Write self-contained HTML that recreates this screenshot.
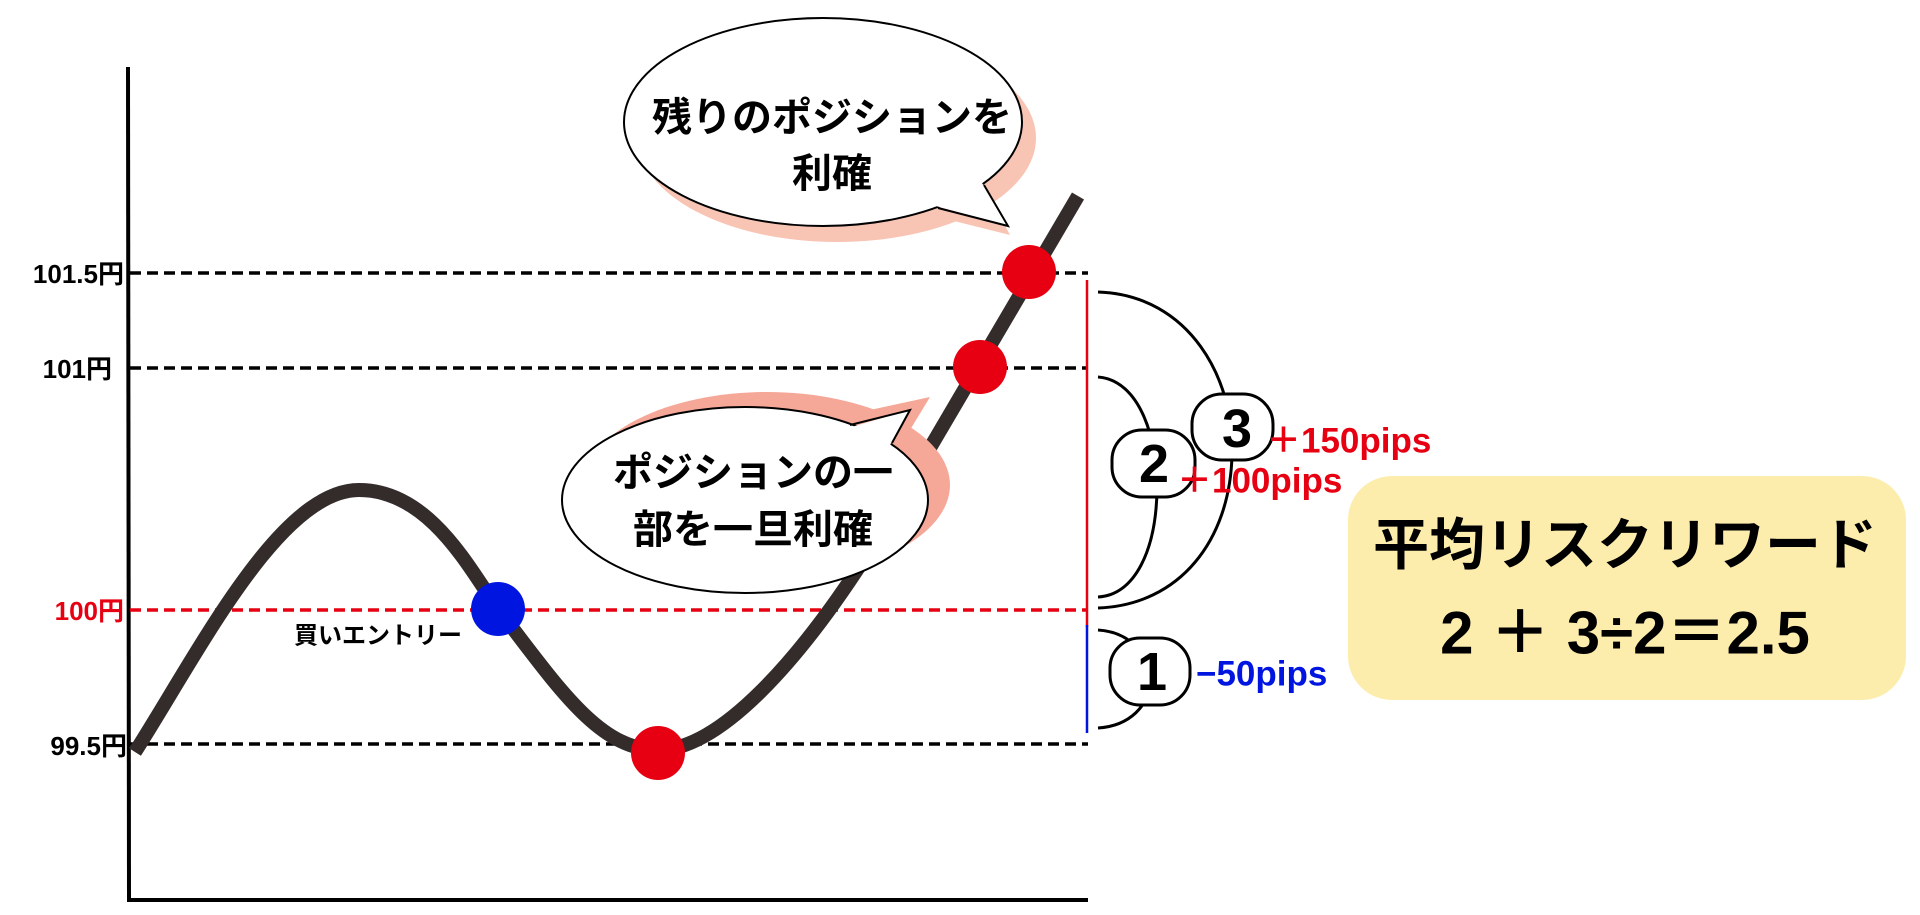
<!DOCTYPE html>
<html><head><meta charset="utf-8"><style>
html,body{margin:0;padding:0;background:#fff;}
svg{display:block;}
text{font-family:"Liberation Sans","Noto Sans CJK JP",sans-serif;font-weight:bold;}
</style></head><body>
<svg width="1920" height="915" viewBox="0 0 1920 915" xmlns="http://www.w3.org/2000/svg">
<!-- axes -->
<line x1="128" y1="67" x2="129" y2="902" stroke="#000" stroke-width="4"/>
<line x1="127" y1="900" x2="1088" y2="900" stroke="#000" stroke-width="4"/>
<!-- dashed levels -->
<g stroke-width="3.5" stroke-dasharray="11 6">
<line x1="130" y1="273" x2="1088" y2="273" stroke="#000"/>
<line x1="130" y1="368" x2="1088" y2="368" stroke="#000"/>
<line x1="130" y1="610" x2="1088" y2="610" stroke="#e60012"/>
<line x1="130" y1="744" x2="1088" y2="744" stroke="#000"/>
</g>
<!-- labels -->
<g font-size="26" text-anchor="end" dominant-baseline="central">
<text x="124" y="274">101.5円</text>
<text x="112" y="369">101円</text>
<text x="124" y="611" fill="#e60012">100円</text>
<text x="127" y="746">99.5円</text>
</g>
<text x="378" y="636" font-size="24" text-anchor="middle" dominant-baseline="central" font-weight="normal">買いエントリー</text>
<!-- curve -->
<path d="M135,752 C200,650 280,490 359,490 C430,490 470,570 498,609 C560,690 600,750 658,750 C720,750 800,660 870,550 L1078,196" fill="none" stroke="#332c2b" stroke-width="14"/>
<!-- bubble 1 shadow -->
<g fill="#f8c4b4" transform="translate(14,16)">
<ellipse cx="823" cy="122" rx="199" ry="104"/>
<path d="M940,205 L996,219 L975,180 Z"/>
</g>
<!-- bubble 1 -->
<ellipse cx="823" cy="122" rx="199" ry="104" fill="#fff" stroke="#000" stroke-width="2"/>
<path d="M936,206 L1008,226 L982,183 Z" fill="#fff"/>
<path d="M938,208 L1008,226 L984,185" fill="none" stroke="#000" stroke-width="2"/>
<text x="832" y="118" font-size="40" text-anchor="middle" dominant-baseline="central">残りのポジションを</text>
<text x="832" y="174" font-size="40" text-anchor="middle" dominant-baseline="central">利確</text>
<!-- bubble 2 -->
<ellipse cx="767" cy="485" rx="183" ry="93" fill="#f6a898"/>
<path d="M870,410 L930,397 L910,430 Z" fill="#f6a898"/>
<ellipse cx="745" cy="500" rx="183" ry="93" fill="#fff" stroke="#000" stroke-width="2"/>
<path d="M848,428 L910,410 L890,445" fill="#fff" stroke="none"/>
<path d="M850,425 L910,410 L892,443" fill="none" stroke="#000" stroke-width="2"/>
<text x="753" y="473" font-size="40" text-anchor="middle" dominant-baseline="central">ポジションの一</text>
<text x="753" y="530" font-size="40" text-anchor="middle" dominant-baseline="central">部を一旦利確</text>
<!-- dots -->
<circle cx="498" cy="609" r="27" fill="#0016e0"/>
<circle cx="658" cy="753" r="27" fill="#e60012"/>
<circle cx="980" cy="367" r="27" fill="#e60012"/>
<circle cx="1029" cy="272" r="27" fill="#e60012"/>
<!-- vertical lines -->
<line x1="1087" y1="280" x2="1087" y2="627" stroke="#e60012" stroke-width="2.5"/>
<line x1="1087" y1="625" x2="1087" y2="733" stroke="#0016e0" stroke-width="2.5"/>
<!-- arcs -->
<path d="M1098,292 C1190,295 1235,380 1232,455 C1230,540 1180,605 1098,608" fill="none" stroke="#000" stroke-width="3"/>
<path d="M1098,377 C1140,380 1158,440 1157,490 C1156,550 1135,595 1098,597" fill="none" stroke="#000" stroke-width="3"/>
<path d="M1098,630 C1130,632 1150,655 1150,680 C1150,705 1130,726 1098,728" fill="none" stroke="#000" stroke-width="3"/>
<!-- number bubbles -->
<rect x="1192" y="394" width="81" height="66" rx="30" fill="#fff" stroke="#000" stroke-width="3"/>
<rect x="1112" y="430" width="83" height="67" rx="30" fill="#fff" stroke="#000" stroke-width="3"/>
<rect x="1110" y="638" width="80" height="67" rx="30" fill="#fff" stroke="#000" stroke-width="3"/>
<g font-size="54" text-anchor="middle" dominant-baseline="central">
<text x="1237" y="429">3</text>
<text x="1154" y="464">2</text>
<text x="1152" y="672">1</text>
</g>
<g font-size="35" dominant-baseline="central">
<text x="1266" y="441" fill="#e60012">＋150pips</text>
<text x="1177" y="481" fill="#e60012">＋100pips</text>
<text x="1196" y="674" fill="#0016e0">−50pips</text>
</g>
<!-- yellow box -->
<rect x="1348" y="476" width="558" height="224" rx="44" fill="#fdedac"/>
<text x="1625" y="545" font-size="56" text-anchor="middle" dominant-baseline="central">平均リスクリワード</text>
<text x="1625" y="633" font-size="60" text-anchor="middle" dominant-baseline="central">2 ＋ 3÷2＝2.5</text>
</svg>
</body></html>
